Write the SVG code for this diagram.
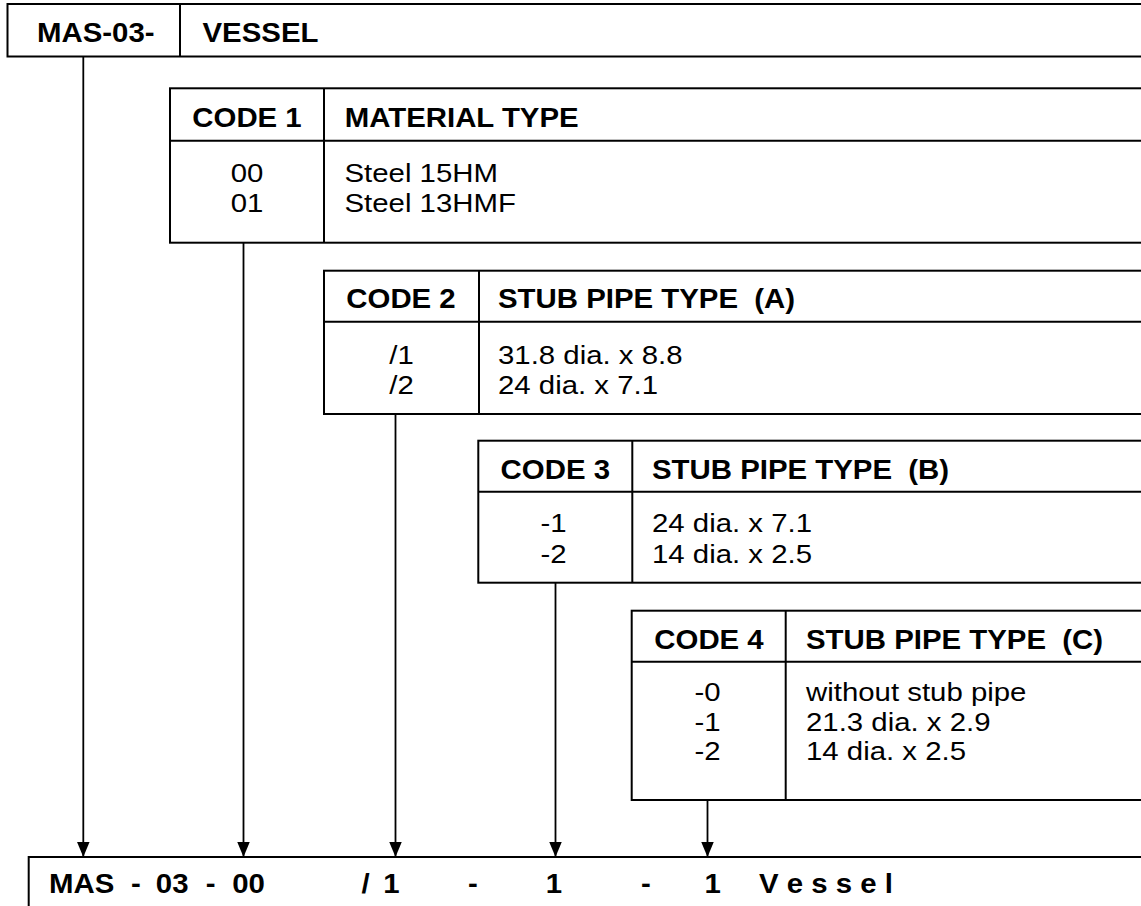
<svg xmlns="http://www.w3.org/2000/svg" width="1141" height="906" viewBox="0 0 1141 906">
<style>
.box{fill:none;stroke:#000;stroke-width:2}
.b{font-family:"Liberation Sans",Arial,sans-serif;font-weight:bold;font-size:28px;fill:#000}
.r{font-family:"Liberation Sans",Arial,sans-serif;font-size:26px;fill:#000}
.c{text-anchor:middle}
.conn line{stroke:#000;stroke-width:1.8;marker-end:url(#arr)}
</style>
<defs>
<marker id="arr" markerUnits="userSpaceOnUse" markerWidth="15" markerHeight="18" viewBox="0 0 18 15" refX="18" refY="7.5" orient="auto">
<path d="M0,0 L18,7.5 L0,15 z" fill="#000"/>
</marker>
</defs>
<rect width="1141" height="906" fill="#fff"/>

<g id="header">
<rect class="box" x="7.5" y="4" width="1160" height="52.5"/>
<line class="box" x1="180" y1="4" x2="180" y2="56.5"/>
<text class="b" transform="translate(37,42) scale(1.05,1)">MAS-03-</text>
<text class="b" transform="translate(202.5,42) scale(1.05,1)">VESSEL</text>
</g>

<g id="code1">
<rect class="box" x="170" y="88.3" width="1000" height="154.4"/>
<line class="box" x1="170" y1="140.7" x2="1141" y2="140.7"/>
<line class="box" x1="324" y1="88.3" x2="324" y2="242.7"/>
<text class="b c" transform="translate(247,126.7) scale(1.05,1)">CODE 1</text>
<text class="b" transform="translate(344.7,126.7) scale(1.05,1)">MATERIAL TYPE</text>
<text class="r c" transform="translate(247,181.7) scale(1.13,1)">00</text>
<text class="r c" transform="translate(247,211.7) scale(1.13,1)">01</text>
<text class="r" transform="translate(344.5,181.7) scale(1.13,1)">Steel 15HM</text>
<text class="r" transform="translate(344.5,211.7) scale(1.13,1)">Steel 13HMF</text>
</g>

<g id="code2">
<rect class="box" x="324" y="270.7" width="900" height="143.3"/>
<line class="box" x1="324" y1="321.7" x2="1141" y2="321.7"/>
<line class="box" x1="479" y1="270.7" x2="479" y2="414"/>
<text class="b c" transform="translate(401,308) scale(1.05,1)">CODE 2</text>
<text class="b" xml:space="preserve" transform="translate(498,308) scale(1.05,1)">STUB PIPE TYPE  (A)</text>
<text class="r c" transform="translate(401.5,364) scale(1.13,1)">/1</text>
<text class="r c" transform="translate(401.5,394) scale(1.13,1)">/2</text>
<text class="r" transform="translate(498,364) scale(1.13,1)">31.8 dia. x 8.8</text>
<text class="r" transform="translate(498,394) scale(1.13,1)">24 dia. x 7.1</text>
</g>

<g id="code3">
<rect class="box" x="478.3" y="440.7" width="800" height="142"/>
<line class="box" x1="478.3" y1="491.7" x2="1141" y2="491.7"/>
<line class="box" x1="632.3" y1="440.7" x2="632.3" y2="582.7"/>
<text class="b c" transform="translate(555.3,479) scale(1.05,1)">CODE 3</text>
<text class="b" xml:space="preserve" transform="translate(652,479) scale(1.05,1)">STUB PIPE TYPE  (B)</text>
<text class="r c" transform="translate(553.5,531.7) scale(1.13,1)">-1</text>
<text class="r c" transform="translate(553.5,562.5) scale(1.13,1)">-2</text>
<text class="r" transform="translate(652,531.7) scale(1.13,1)">24 dia. x 7.1</text>
<text class="r" transform="translate(652,562.5) scale(1.13,1)">14 dia. x 2.5</text>
</g>

<g id="code4">
<rect class="box" x="631.7" y="610.7" width="700" height="189.3"/>
<line class="box" x1="631.7" y1="661.7" x2="1141" y2="661.7"/>
<line class="box" x1="785.7" y1="610.7" x2="785.7" y2="800"/>
<text class="b c" transform="translate(709,649) scale(1.05,1)">CODE 4</text>
<text class="b" xml:space="preserve" transform="translate(806,649) scale(1.05,1)">STUB PIPE TYPE  (C)</text>
<text class="r c" transform="translate(707.5,701) scale(1.13,1)">-0</text>
<text class="r c" transform="translate(707.5,731) scale(1.13,1)">-1</text>
<text class="r c" transform="translate(707.5,760) scale(1.13,1)">-2</text>
<text class="r" transform="translate(806,701) scale(1.13,1)">without stub pipe</text>
<text class="r" transform="translate(806,731) scale(1.13,1)">21.3 dia. x 2.9</text>
<text class="r" transform="translate(806,760) scale(1.13,1)">14 dia. x 2.5</text>
</g>

<g id="connectors" class="conn">
<line x1="83.3" y1="56.5" x2="83.3" y2="857"/>
<line x1="243.5" y1="242.7" x2="243.5" y2="857"/>
<line x1="395.5" y1="414" x2="395.5" y2="857"/>
<line x1="555.5" y1="582.7" x2="555.5" y2="857"/>
<line x1="707.5" y1="800" x2="707.5" y2="857"/>
</g>

<g id="result">
<rect class="box" x="28.7" y="857" width="1200" height="100"/>
<text class="b" y="893" transform="scale(1.05,1)"><tspan x="46.7">MAS</tspan> <tspan x="124.8">-</tspan> <tspan x="148.4">03</tspan> <tspan x="195.9">-</tspan> <tspan x="221.2">00</tspan> <tspan x="344.3">/</tspan> <tspan x="365">1</tspan> <tspan x="445.7">-</tspan> <tspan x="519.8">1</tspan> <tspan x="610.5">-</tspan> <tspan x="670.9">1</tspan> <tspan x="722.9">V e s s e l</tspan></text>
</g>
</svg>
